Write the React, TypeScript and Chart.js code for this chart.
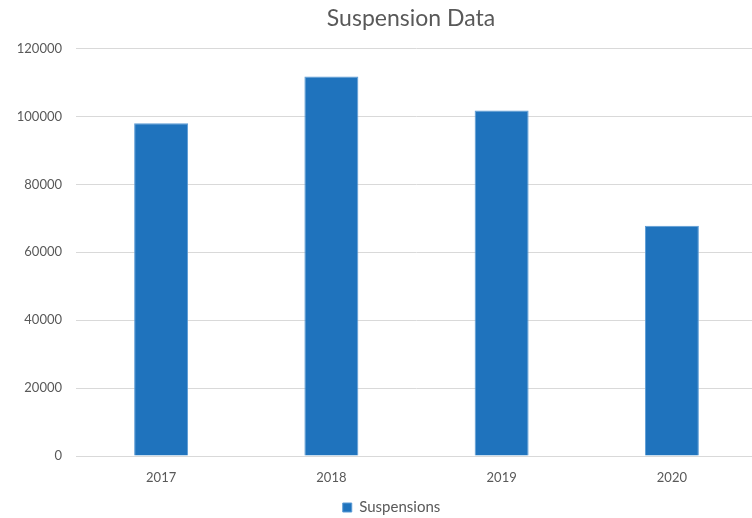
import React, { useEffect, useRef } from "react";
import { Chart, registerables } from "chart.js";

Chart.register(...registerables);

const categories = ["2017", "2018", "2019", "2020"];
const suspensions = [98000, 111800, 101800, 67800];
const seriesLabel = "Suspensions";
const chartTitle = "Suspension Data";

const shiftBlocks = {
  id: "shiftBlocks",
  afterLayout(chart: any) {
    if (chart.titleBlock) chart.titleBlock.left += 65;
    if (chart.legend) chart.legend.left += 26;
  },
};

export default function App() {
  const ref = useRef<HTMLCanvasElement | null>(null);

  useEffect(() => {
    if (!ref.current) return;
    const font = "Lato, 'Open Sans', sans-serif";
    const chart = new Chart(ref.current, {
      type: "bar",
      data: {
        labels: categories,
        datasets: [
          {
            label: seriesLabel,
            data: suspensions,
            backgroundColor: "#1f73bd",
            borderColor: "#5b9bd5",
            borderWidth: 1,
            barPercentage: 0.317,
            categoryPercentage: 1,
          },
        ],
      },
      options: {
        animation: false,
        responsive: false,
        maintainAspectRatio: false,
        layout: { padding: { left: 0, right: 0, top: 0, bottom: -7 } },
        plugins: {
          title: {
            display: true,
            text: chartTitle,
            color: "#595959",
            font: { family: font, size: 23, weight: "normal" },
            padding: { top: 5, bottom: 16 },
          },
          legend: {
            position: "bottom",
            labels: {
              color: "#595959",
              font: { family: font, size: 15 },
              boxWidth: 9,
              boxHeight: 9,
              padding: 4,
            },
          },
          tooltip: { enabled: false },
        },
        scales: {
          x: {
            grid: { display: false, drawTicks: false },
            border: { display: true, color: "#d9d9d9", width: 1 },
            ticks: { color: "#595959", font: { family: font, size: 13 }, padding: 14 },
            afterFit: (s: any) => {
              s.height = 40;
            },
          },
          y: {
            min: 0,
            max: 120000,
            ticks: {
              stepSize: 20000,
              color: "#595959",
              font: { family: font, size: 13 },
              padding: 14,
              callback: (v: any) => String(v),
            },
            grid: { color: "#d9d9d9", drawTicks: false },
            border: { display: false },
            afterFit: (s: any) => {
              s.width = 76;
            },
          },
        },
      },
      plugins: [shiftBlocks],
    });
    return () => chart.destroy();
  }, []);

  return (
    <div
      style={{
        position: "fixed",
        left: 0,
        top: 0,
        width: 752,
        height: 518,
        overflow: "hidden",
        background: "#fff",
      }}
    >
      <canvas ref={ref} width={757} height={518} style={{ width: 757, height: 518, display: "block" }} />
    </div>
  );
}
